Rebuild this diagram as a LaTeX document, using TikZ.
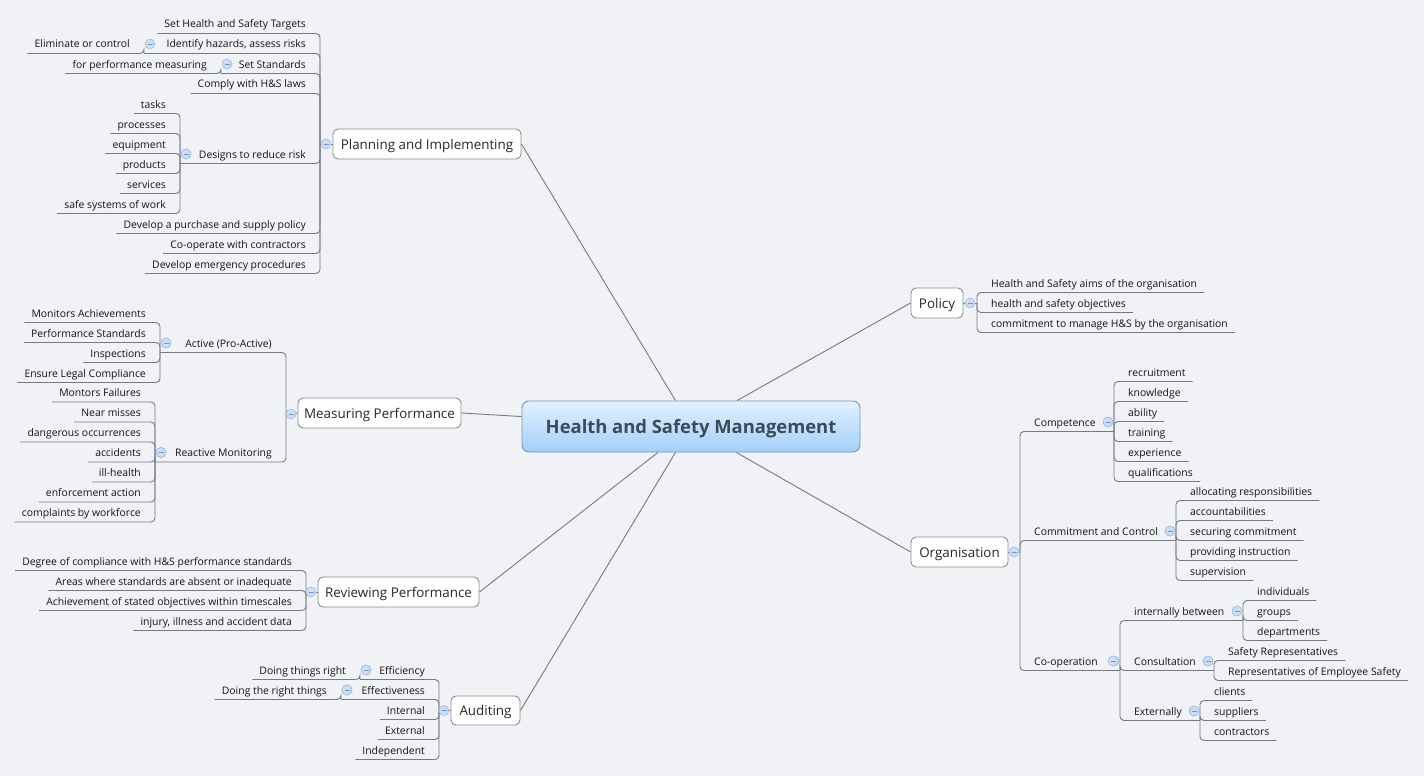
\documentclass[tikz,border=0pt]{standalone}
\usepackage{fontspec}
\setmainfont{Open Sans}
\usetikzlibrary{calc}
\definecolor{bgc}{RGB}{240,242,246}
\definecolor{linec}{RGB}{118,122,128}
\definecolor{boxc}{RGB}{138,142,148}
\definecolor{txt}{RGB}{20,20,20}
\definecolor{toptxt}{RGB}{40,40,40}
\definecolor{ctop}{RGB}{226,241,255}
\definecolor{cbot}{RGB}{163,207,250}
\definecolor{cedge}{RGB}{120,152,182}
\definecolor{ctxt}{RGB}{62,74,86}
\definecolor{btnf}{RGB}{205,222,242}
\definecolor{btnd}{RGB}{160,188,222}
\definecolor{btnm}{RGB}{120,150,192}
\tikzset{
 conn/.style={draw=linec, line width=0.9pt, rounded corners=4pt},
 leaftext/.style={inner sep=0pt, text=txt, font=\fontsize{10.4}{12.5}\selectfont},
 topicbox/.style={draw=boxc, fill=white, line width=0.9pt, rounded corners=5pt, inner sep=1pt, text=toptxt, font=\fontsize{13.4}{16}\selectfont, minimum height=30pt, text height=11pt, text depth=0.5pt},
 hubbox/.style={draw=cedge, top color=ctop, bottom color=cbot, line width=0.9pt, rounded corners=7pt, text=ctxt, font=\bfseries\fontsize{18.4}{22}\selectfont, minimum width=338pt, minimum height=51pt, text height=13.5pt, text depth=0.5pt},
 mainline/.style={draw=linec, line width=0.9pt},
}
% collapse button
\newcommand{\mmBtn}[2]{%
 \filldraw[fill=btnf, draw=btnd, line width=0.6pt] (#1,#2) circle[radius=5pt];
 \draw[btnm, line width=0.8pt] (#1-2.5,#2) -- (#1+2.5,#2);}
% left leaf: name, spine x, parent y, text y, text
\newcommand{\mmLeafL}[5]{%
 \node[leaftext, anchor=base east] (#1) at (#2-14, #4+4) {#5};
 \draw[conn] (#2,#3) |- ($(#1.base west)+(-7,5.5)$);}
% left sub: name, spine x, parent y, text y, text, child spine x
\newcommand{\mmSubL}[6]{%
 \node[leaftext, anchor=base east] (#1) at (#2-14, #4+4) {#5};
 \draw[conn] (#2,#3) |- (#6, #4+9.5);
 \mmBtn{#6+6}{#4}}
\newcommand{\mmLeafR}[5]{%
 \node[leaftext, anchor=base west] (#1) at (#2+14, #4+4) {#5};
 \draw[conn] (#2,#3) |- ($(#1.base east)+(7,5.5)$);}
\newcommand{\mmSubR}[6]{%
 \node[leaftext, anchor=base west] (#1) at (#2+14, #4+4) {#5};
 \draw[conn] (#2,#3) |- (#6, #4+9.5);
 \mmBtn{#6-6}{#4}}
\begin{document}
\begin{tikzpicture}[x=1pt,y=-1pt]
\useasboundingbox (0,0) rectangle (1424,776);
\fill[bgc] (0,0) rectangle (1424,776);

% ---------- Planning and Implementing ----------
\mmLeafL{p1}{320}{144}{24}{Set Health and Safety Targets}
\mmSubL{p2}{320}{144}{44}{Identify hazards, assess risks}{144}
\mmLeafL{p2a}{144}{53.5}{44}{Eliminate or control}
\mmSubL{p3}{320}{144}{64}{Set Standards}{221}
\mmLeafL{p3a}{221}{73.5}{64}{for performance measuring}
\mmLeafL{p4}{320}{144}{84}{Comply with H\&S laws}
\mmSubL{p5}{320}{144}{154}{Designs to reduce risk}{180}
\mmLeafL{p5a}{180}{163.5}{104}{tasks}
\mmLeafL{p5b}{180}{163.5}{124}{processes}
\mmLeafL{p5c}{180}{163.5}{144}{equipment}
\mmLeafL{p5d}{180}{163.5}{164}{products}
\mmLeafL{p5e}{180}{163.5}{184}{services}
\mmLeafL{p5f}{180}{163.5}{204}{safe systems of work}
\mmBtn{186}{154}
\mmLeafL{p6}{320}{144}{224}{Develop a purchase and supply policy}
\mmLeafL{p7}{320}{144}{244}{Co-operate with contractors}
\mmLeafL{p8}{320}{144}{264}{Develop emergency procedures}

% ---------- Measuring Performance ----------
\mmSubL{m1}{286}{414}{343}{Active (Pro-Active)}{160}
\mmLeafL{m1a}{160}{352.5}{313}{Monitors Achievements}
\mmLeafL{m1b}{160}{352.5}{333}{Performance Standards}
\mmLeafL{m1c}{160}{352.5}{353}{Inspections}
\mmLeafL{m1d}{160}{352.5}{373}{Ensure Legal Compliance}
\mmBtn{166}{343}
\mmSubL{m2}{286}{414}{452.5}{Reactive Monitoring}{155}
\mmLeafL{m2a}{155}{462}{392.5}{Montors Failures}
\mmLeafL{m2b}{155}{462}{412.5}{Near misses}
\mmLeafL{m2c}{155}{462}{432.5}{dangerous occurrences}
\mmLeafL{m2d}{155}{462}{452.5}{accidents}
\mmLeafL{m2e}{155}{462}{472.5}{ill-health}
\mmLeafL{m2f}{155}{462}{492.5}{enforcement action}
\mmLeafL{m2g}{155}{462}{512.5}{complaints by workforce}
\mmBtn{161}{452.5}

% ---------- Reviewing Performance ----------
\mmLeafL{r1}{306}{592}{561}{Degree of compliance with H\&S performance standards}
\mmLeafL{r2}{306}{592}{581}{Areas where standards are absent or inadequate}
\mmLeafL{r3}{306}{592}{601}{Achievement of stated objectives within timescales}
\mmLeafL{r4}{306}{592}{621}{injury, illness and accident data}

% ---------- Auditing ----------
\mmSubL{a1}{439}{710.5}{670}{Efficiency}{360}
\mmLeafL{a1a}{360}{679.5}{670}{Doing things right}
\mmSubL{a2}{439}{710.5}{690}{Effectiveness}{341}
\mmLeafL{a2a}{341}{699.5}{690}{Doing the right things}
\mmLeafL{a3}{439}{710.5}{710}{Internal}
\mmLeafL{a4}{439}{710.5}{730}{External}
\mmLeafL{a5}{439}{710.5}{750}{Independent}
\mmBtn{366}{670}
\mmBtn{347}{690}

% ---------- Policy ----------
\mmLeafR{q1}{977}{303}{283}{Health and Safety aims of the organisation}
\mmLeafR{q2}{977}{303}{303}{health and safety objectives}
\mmLeafR{q3}{977}{303}{323}{commitment to manage H\&S by the organisation}

% ---------- Organisation ----------
\mmSubR{o1}{1020}{552}{422}{Competence}{1114}
\mmLeafR{o1a}{1114}{431.5}{372}{recruitment}
\mmLeafR{o1b}{1114}{431.5}{392}{knowledge}
\mmLeafR{o1c}{1114}{431.5}{412}{ability}
\mmLeafR{o1d}{1114}{431.5}{432}{training}
\mmLeafR{o1e}{1114}{431.5}{452}{experience}
\mmLeafR{o1f}{1114}{431.5}{472}{qualifications}
\mmBtn{1108}{422}
\mmSubR{o2}{1020}{552}{531}{Commitment and Control}{1176}
\mmLeafR{o2a}{1176}{540.5}{491}{allocating responsibilities}
\mmLeafR{o2b}{1176}{540.5}{511}{accountabilities}
\mmLeafR{o2c}{1176}{540.5}{531}{securing commitment}
\mmLeafR{o2d}{1176}{540.5}{551}{providing instruction}
\mmLeafR{o2e}{1176}{540.5}{571}{supervision}
\mmBtn{1170}{531}
\mmSubR{o3}{1020}{552}{661}{Co-operation}{1120}
\mmSubR{o3a}{1120}{670.5}{611}{internally between}{1243}
\mmLeafR{o3a1}{1243}{620.5}{591}{individuals}
\mmLeafR{o3a2}{1243}{620.5}{611}{groups}
\mmLeafR{o3a3}{1243}{620.5}{631}{departments}
\mmBtn{1237}{611}
\mmSubR{o3b}{1120}{670.5}{661}{Consultation}{1214}
\mmLeafR{o3b1}{1214}{670.5}{651}{Safety Representatives}
\mmLeafR{o3b2}{1214}{670.5}{671}{Representatives of Employee Safety}
\mmBtn{1208}{661}
\mmSubR{o3c}{1120}{670.5}{711}{Externally}{1200}
\mmLeafR{o3c1}{1200}{720.5}{691}{clients}
\mmLeafR{o3c2}{1200}{720.5}{711}{suppliers}
\mmLeafR{o3c3}{1200}{720.5}{731}{contractors}
\mmBtn{1194}{711}
\mmBtn{1113}{661}

% ---------- main topics ----------
\node[hubbox] (hsm) at (691,426.5) {Health and Safety Management};
\node[topicbox, minimum width=188pt] (plan) at (427,144) {Planning and Implementing};
\node[topicbox, minimum width=163pt] (meas) at (379.5,413) {Measuring Performance};
\node[topicbox, minimum width=161pt] (rev) at (398.5,592) {Reviewing Performance};
\node[topicbox, minimum width=69pt, minimum height=29pt] (aud) at (485.5,710.5) {Auditing};
\node[topicbox, minimum width=52pt] (pol) at (937,303) {Policy};
\node[topicbox, minimum width=97pt] (org) at (959.5,552) {Organisation};

\draw[mainline] (plan.east) -- (hsm);
\draw[mainline] (meas.east) -- (hsm);
\draw[mainline] (rev.east) -- (hsm);
\draw[mainline] (aud.east) -- (hsm);
\draw[mainline] (pol.west) -- (hsm);
\draw[mainline] (org.west) -- (hsm);

\draw[mainline] (plan.west) -- (320,144);
\draw[mainline] (meas.west) -- (286,414);
\draw[mainline] (rev.west) -- (306,592);
\draw[mainline] (aud.west) -- (439,710.5);
\draw[mainline] (pol.east) -- (977,303);
\draw[mainline] (org.east) -- (1020,552);
\mmBtn{326}{144}
\mmBtn{291}{414}
\mmBtn{311}{592}
\mmBtn{444}{710.5}
\mmBtn{970}{303}
\mmBtn{1014}{552}
\end{tikzpicture}
\end{document}
